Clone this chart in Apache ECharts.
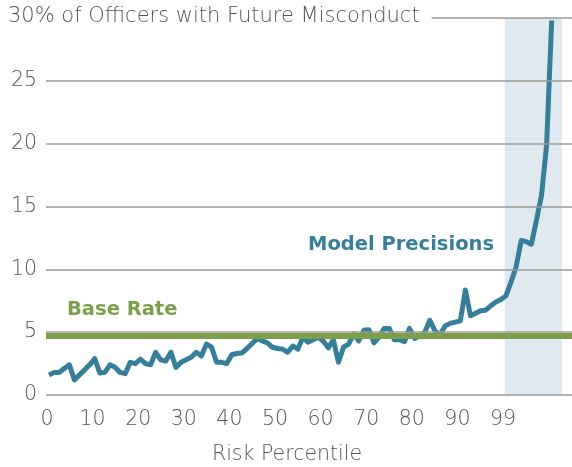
<!DOCTYPE html>
<html>
<head>
<meta charset="utf-8">
<script src="https://cdn.jsdelivr.net/npm/echarts@6/dist/echarts.min.js"></script>
<style>
	html, body { margin: 0; padding: 0; background: #fff; }
	#chart { width: 572px; height: 467px; }
</style>
</head>
<body>
<div id="chart"></div>
<script>
// share of officers with future misconduct, by risk percentile 0..99
var precision = [
	1.6, 1.8, 1.8, 2.1, 2.4, 1.2, 1.6, 2.0, 2.4, 2.9,
	1.75, 1.8, 2.4, 2.2, 1.8, 1.7, 2.6, 2.5, 2.85, 2.5,
	2.4, 3.4, 2.8, 2.7, 3.4, 2.2, 2.6, 2.8, 3.0, 3.4,
	3.1, 4.05, 3.8, 2.6, 2.6, 2.5, 3.2, 3.3, 3.35, 3.7,
	4.1, 4.5, 4.3, 4.15, 3.8, 3.7, 3.65, 3.4, 3.9, 3.65,
	4.6, 4.2, 4.4, 4.6, 4.3, 3.75, 4.4, 2.6, 3.8, 4.05,
	4.85, 4.3, 5.15, 5.2, 4.15, 4.6, 5.3, 5.3, 4.4, 4.4,
	4.25, 5.3, 4.5, 4.7, 5.0, 5.95, 5.1, 4.8, 5.5, 5.7,
	5.8, 5.9, 8.35, 6.3, 6.5, 6.7, 6.75, 7.1, 7.4, 7.6,
	7.9, 9.0, 10.2, 12.3, 12.2, 12.0, 13.9, 15.9, 19.9, 29.8
];
var baseRate = 4.7;
var xLabels = ['0', '10', '20', '30', '40', '50', '60', '70', '80', '90', '99'];
var yTicks = [0, 5, 10, 15, 20, 25, 30];
var topLabel = '30% of Officers with Future Misconduct';
var bandFrom = 89.75;
var bandTo = 101;

var teal = '#367f9b';
var green = '#7d9f49';
var grey = '#555555';
var font = '"DejaVu Sans"';
var lightWeight = 200;

var points = [];
for (var i = 0; i < precision.length; i++) {
	points.push([i, precision[i]]);
}

// grid lines and base rate share one markLine, base rate last so it sits on top
var refLines = [];
for (var j = 0; j < yTicks.length; j++) {
	refLines.push({
		yAxis : yTicks[j],
		lineStyle : { color : '#9c9c9c', width : 1.5, type : 'solid' }
	});
}
refLines.push({
	yAxis : baseRate,
	lineStyle : { color : green, width : 6, type : 'solid' }
});

var myChart = echarts.init(document.getElementById('chart'));
var option = {
	animation : false,
	title : {
		text : topLabel,
		left : 2,
		top : 4,
		z : 10,
		backgroundColor : '#fff',
		padding : [ 2, 12, 2, 6 ],
		textStyle : {
			fontFamily : font,
			fontWeight : lightWeight,
			fontSize : 21,
			color : grey
		}
	},
	grid : [ {
		left : 46,
		right : 0,
		top : 18,
		bottom : 72
	}, {
		left : 47,
		right : 69,
		top : 18,
		bottom : 72
	} ],
	xAxis : [ {
		type : 'value',
		gridIndex : 0,
		min : -0.6,
		max : 103,
		show : false
	}, {
		type : 'category',
		gridIndex : 1,
		data : xLabels,
		boundaryGap : false,
		axisLine : { show : false },
		axisTick : { show : false },
		axisLabel : {
			margin : 14,
			fontFamily : font,
			fontWeight : lightWeight,
			fontSize : 20.5,
			color : grey
		}
	} ],
	yAxis : [ {
		type : 'value',
		gridIndex : 0,
		min : 0,
		max : 30,
		interval : 5,
		axisLine : { show : false },
		axisTick : { show : false },
		splitLine : { show : false },
		axisLabel : {
			margin : 9,
			fontFamily : font,
			fontWeight : lightWeight,
			fontSize : 20.5,
			color : grey,
			formatter : function(v) {
				return v === 30 ? '' : String(v);
			}
		}
	}, {
		type : 'value',
		gridIndex : 1,
		min : 0,
		max : 30,
		show : false
	} ],
	graphic : [ {
		type : 'text',
		x : 308,
		y : 245,
		style : {
			text : 'Model Precisions',
			fill : teal,
			font : 'bold 19.5px ' + font,
			verticalAlign : 'middle'
		}
	}, {
		type : 'text',
		x : 67,
		y : 310,
		style : {
			text : 'Base Rate',
			fill : green,
			font : 'bold 19.5px ' + font,
			verticalAlign : 'middle'
		}
	}, {
		type : 'text',
		x : 287,
		y : 455,
		style : {
			text : 'Risk Percentile',
			fill : grey,
			font : lightWeight + ' 20.5px ' + font,
			align : 'center',
			verticalAlign : 'middle'
		}
	} ],
	series : [ {
		name : 'band',
		type : 'line',
		xAxisIndex : 0,
		yAxisIndex : 0,
		data : [],
		z : 1,
		silent : true,
		markArea : {
			silent : true,
			itemStyle : { color : '#e0e9ef' },
			data : [ [ { xAxis : bandFrom, yAxis : 0 }, { xAxis : bandTo, yAxis : 30 } ] ]
		}
	}, {
		name : 'Base Rate',
		type : 'line',
		xAxisIndex : 0,
		yAxisIndex : 0,
		data : [],
		z : 3,
		markLine : {
			silent : true,
			symbol : 'none',
			label : { show : false },
			data : refLines
		}
	}, {
		name : 'Model Precisions',
		type : 'line',
		xAxisIndex : 0,
		yAxisIndex : 0,
		data : points,
		showSymbol : false,
		z : 4,
		lineStyle : { color : teal, width : 5, join : 'round' }
	} ]
};
myChart.setOption(option);
</script>
</body>
</html>
